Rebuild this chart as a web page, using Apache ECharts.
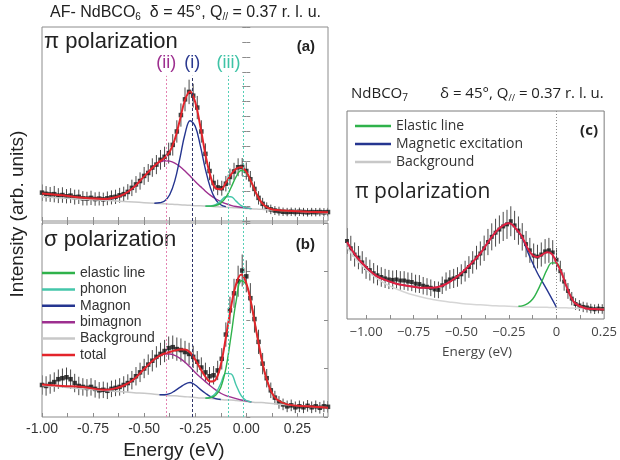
<!DOCTYPE html>
<html>
<head>
<meta charset="utf-8">
<script src="https://cdn.jsdelivr.net/npm/echarts@6/dist/echarts.min.js"></script>
<style>
  html, body { margin: 0; padding: 0; background: #fff; }
  #main { width: 620px; height: 460px; }
</style>
</head>
<body>
<div id="main"></div>
<script>
// ---------- AF-NdBCO6, fitted curves (energy in eV) ----------
const afFitEnergy = [-1.0,-0.9,-0.8,-0.7,-0.65,-0.6,-0.55,-0.5,-0.45,-0.425,-0.4,-0.375,-0.35,-0.325,-0.3,-0.275,-0.25,-0.225,-0.2,-0.175,-0.15,-0.125,-0.1,-0.075,-0.05,-0.025,0,0.025,0.05,0.075,0.1,0.125,0.15,0.2,0.3,0.4];

// (a) pi polarization
const piBackground = [1.62,1.54,1.46,1.39,1.35,1.31,1.27,1.23,1.19,1.17,1.15,1.13,1.11,1.09,1.07,1.05,1.03,1.02,1.0,0.98,0.96,0.94,0.92,0.90,0.88,0.86,0.84,0.82,0.80,0.78,0.76,0.74,0.72,0.68,0.61,0.53];
const piBimagnon = [null,null,null,1.44,1.53,1.78,2.27,2.99,3.69,3.93,4.04,4.01,3.88,3.65,3.35,3.01,2.65,2.32,2.0,1.72,1.49,1.30,1.16,1.05,0.97,0.92,0.87,0.83,null,null,null,null,null,null,null,null];
const piMagnon = [null,null,null,null,null,null,null,null,1.19,1.22,1.34,1.76,2.69,4.20,5.83,6.72,6.35,5.05,3.46,2.20,1.44,1.09,0.96,null,null,null,null,null,null,null,null,null,null,null,null,null];
const piPhonon = [null,null,null,null,null,null,null,null,null,null,null,null,null,null,null,null,null,null,1.0,1.01,1.10,1.35,1.62,1.62,1.33,1.03,0.88,0.83,null,null,null,null,null,null,null,null];
const piElastic = [null,null,null,null,null,null,null,null,null,null,null,null,null,null,null,null,null,null,1.0,1.0,1.04,1.20,1.58,2.23,2.96,3.38,3.23,2.58,1.81,1.23,0.92,0.78,0.73,0.68,null,null];
const piTotal = [1.85,1.72,1.55,1.48,1.56,1.78,2.27,2.99,3.69,3.98,4.23,4.64,5.46,6.76,8.11,8.68,7.97,6.35,4.46,2.99,2.19,2.12,2.56,3.10,3.50,3.61,3.30,2.60,1.81,1.23,0.92,0.78,0.73,0.68,0.62,0.58];

// (b) sigma polarization
const sigmaBackground = [0.65,0.62,0.58,0.55,0.53,0.52,0.50,0.49,0.47,0.46,0.45,0.44,0.44,0.43,0.42,0.41,0.40,0.39,0.39,0.38,0.37,0.36,0.35,0.35,0.34,0.33,0.32,0.31,0.30,0.30,0.29,0.28,0.27,0.25,0.22,0.19];
const sigmaBimagnon = [null,null,null,0.56,0.58,0.65,0.78,0.99,1.19,1.26,1.30,1.30,1.27,1.21,1.13,1.03,0.92,0.82,0.73,0.64,0.56,0.49,0.44,0.41,0.38,0.35,0.33,0.31,null,null,null,null,null,null,null,null];
const sigmaMagnon = [null,null,null,null,null,null,null,null,null,0.46,0.46,0.48,0.54,0.61,0.68,0.71,0.66,0.57,0.49,0.42,0.38,0.36,null,null,null,null,null,null,null,null,null,null,null,null,null,null];
const sigmaPhonon = [null,null,null,null,null,null,null,null,null,null,null,null,null,null,null,null,null,null,0.39,0.41,0.49,0.69,0.90,0.89,0.66,0.44,0.34,0.31,null,null,null,null,null,null,null,null];
const sigmaElastic = [null,null,null,null,null,null,null,null,null,null,null,null,null,null,null,null,null,null,0.39,0.40,0.45,0.61,1.0,1.66,2.38,2.81,2.73,2.32,1.75,1.19,0.77,0.50,0.36,0.26,null,null];
const sigmaTotal = [0.67,0.64,0.62,0.56,0.58,0.65,0.78,0.99,1.19,1.26,1.31,1.34,1.37,1.39,1.39,1.33,1.18,1.00,0.83,0.73,0.77,1.07,1.64,2.26,2.74,2.94,2.76,2.32,1.75,1.20,0.77,0.50,0.36,0.26,0.22,0.19];

// ---------- AF-NdBCO6, measured spectra ----------
const afDataEnergy = [-1.00,-0.98,-0.96,-0.94,-0.92,-0.90,-0.88,-0.86,-0.84,-0.82,-0.80,-0.78,-0.76,-0.74,-0.72,-0.70,-0.68,-0.66,-0.64,-0.62,-0.60,-0.58,-0.56,-0.54,-0.52,-0.50,-0.48,-0.46,-0.44,-0.42,-0.40,-0.38,-0.36,-0.34,-0.32,-0.30,-0.28,-0.26,-0.24,-0.22,-0.20,-0.18,-0.16,-0.14,-0.12,-0.10,-0.08,-0.06,-0.04,-0.02,0.00,0.02,0.04,0.06,0.08,0.10,0.12,0.14,0.16,0.18,0.20,0.22,0.24,0.26,0.28,0.30,0.32,0.34,0.36,0.38,0.40];
const piCounts = [1.90,1.82,1.78,1.80,1.70,1.74,1.66,1.70,1.60,1.62,1.52,1.50,1.55,1.47,1.50,1.45,1.52,1.58,1.62,1.72,1.80,1.95,2.22,2.45,2.68,3.02,3.22,3.58,3.78,4.10,4.30,4.55,5.10,6.00,7.10,8.15,8.65,8.40,7.60,6.00,4.50,3.35,2.55,2.25,2.20,2.50,2.95,3.32,3.60,3.62,3.35,2.80,2.15,1.55,1.15,0.90,0.78,0.70,0.66,0.62,0.60,0.62,0.60,0.62,0.60,0.58,0.60,0.59,0.60,0.58,0.60];
const piErrors = [0.55,0.52,0.50,0.55,0.50,0.52,0.48,0.50,0.50,0.48,0.48,0.46,0.48,0.45,0.46,0.45,0.46,0.47,0.48,0.50,0.50,0.52,0.55,0.56,0.58,0.60,0.60,0.62,0.64,0.66,0.68,0.70,0.72,0.75,0.78,0.80,0.82,0.80,0.78,0.75,0.70,0.62,0.56,0.52,0.50,0.52,0.56,0.58,0.60,0.60,0.58,0.55,0.50,0.45,0.40,0.35,0.32,0.30,0.30,0.28,0.28,0.28,0.28,0.28,0.28,0.28,0.28,0.28,0.28,0.28,0.28];
const sigmaCounts = [0.66,0.64,0.68,0.72,0.78,0.80,0.82,0.78,0.70,0.64,0.62,0.60,0.62,0.58,0.55,0.56,0.54,0.58,0.60,0.62,0.66,0.70,0.76,0.84,0.92,1.00,1.08,1.16,1.24,1.30,1.36,1.42,1.44,1.40,1.38,1.34,1.30,1.24,1.14,1.02,0.92,0.84,0.86,0.96,1.20,1.70,2.20,2.55,2.80,3.02,2.90,2.45,2.02,1.55,1.10,0.80,0.55,0.40,0.30,0.26,0.22,0.24,0.20,0.22,0.20,0.23,0.20,0.22,0.19,0.22,0.21];
const sigmaErrors = [0.20,0.20,0.20,0.20,0.20,0.20,0.20,0.20,0.19,0.19,0.18,0.18,0.18,0.18,0.17,0.17,0.17,0.17,0.17,0.18,0.18,0.18,0.19,0.19,0.20,0.20,0.21,0.22,0.22,0.23,0.23,0.24,0.24,0.24,0.24,0.23,0.23,0.23,0.22,0.21,0.20,0.19,0.19,0.20,0.22,0.25,0.28,0.30,0.32,0.33,0.33,0.31,0.28,0.25,0.22,0.19,0.16,0.14,0.13,0.12,0.12,0.12,0.12,0.12,0.12,0.12,0.12,0.12,0.12,0.12,0.12];

// ---------- NdBCO7 (c), pi polarization ----------
const opFitEnergy = [-1.1,-1.05,-1.0,-0.95,-0.9,-0.85,-0.8,-0.75,-0.7,-0.65,-0.6,-0.55,-0.5,-0.45,-0.4,-0.35,-0.3,-0.25,-0.2,-0.175,-0.15,-0.125,-0.1,-0.075,-0.05,-0.025,0,0.025,0.05,0.075,0.1,0.15,0.2,0.25];
const opBackground = [3.45,2.85,2.38,2.0,1.70,1.48,1.30,1.15,1.03,0.94,0.86,0.80,0.75,0.71,0.68,0.65,0.63,0.61,0.59,0.58,0.58,0.57,0.57,0.56,0.56,0.55,0.55,0.54,0.54,0.53,0.52,0.50,0.48,0.46];
const opMagnetic = [3.7,3.0,2.5,2.1,1.88,1.72,1.62,1.55,1.5,1.5,1.6,1.85,2.2,2.65,3.15,3.82,4.36,4.6,4.18,3.79,3.2,2.68,2.2,1.8,1.4,0.98,0.56,null,null,null,null,null,null,null];
const opElastic = [null,null,null,null,null,null,null,null,null,null,null,null,null,null,null,null,null,null,0.61,0.64,0.75,0.96,1.35,1.85,2.37,2.70,2.69,2.25,1.62,1.07,0.74,0.52,0.48,0.46];
const opTotal = [3.7,3.0,2.5,2.1,1.88,1.72,1.62,1.55,1.5,1.5,1.6,1.85,2.2,2.65,3.15,3.82,4.36,4.6,4.2,3.85,3.37,3.07,2.98,3.09,3.21,3.13,2.70,2.25,1.62,1.07,0.74,0.52,0.48,0.46];
const opDataEnergy = [-1.10,-1.08,-1.06,-1.04,-1.02,-1.00,-0.98,-0.96,-0.94,-0.92,-0.90,-0.88,-0.86,-0.84,-0.82,-0.80,-0.78,-0.76,-0.74,-0.72,-0.70,-0.68,-0.66,-0.64,-0.62,-0.60,-0.58,-0.56,-0.54,-0.52,-0.50,-0.48,-0.46,-0.44,-0.42,-0.40,-0.38,-0.36,-0.34,-0.32,-0.30,-0.28,-0.26,-0.24,-0.22,-0.20,-0.18,-0.16,-0.14,-0.12,-0.10,-0.08,-0.06,-0.04,-0.02,0.00,0.02,0.04,0.06,0.08,0.10,0.12,0.14,0.16,0.18,0.20,0.22,0.24];
const opCounts = [3.75,3.40,3.10,2.95,2.72,2.45,2.35,2.20,2.10,2.02,1.95,1.90,1.88,1.90,1.85,1.85,1.80,1.78,1.70,1.68,1.60,1.55,1.50,1.42,1.40,1.62,1.80,1.90,1.95,2.02,2.15,2.30,2.50,2.72,2.95,3.15,3.40,3.70,3.95,4.15,4.30,4.45,4.55,4.70,4.50,4.25,3.95,3.60,3.30,3.05,3.00,3.10,3.25,3.30,3.20,2.85,2.30,1.80,1.35,0.98,0.72,0.65,0.58,0.55,0.50,0.47,0.50,0.48];
const opErrors = [0.62,0.60,0.58,0.56,0.54,0.52,0.50,0.49,0.48,0.47,0.46,0.46,0.45,0.45,0.45,0.45,0.44,0.44,0.43,0.43,0.42,0.41,0.40,0.40,0.40,0.42,0.44,0.45,0.46,0.47,0.48,0.50,0.52,0.54,0.57,0.58,0.61,0.63,0.65,0.67,0.68,0.70,0.70,0.72,0.70,0.68,0.66,0.63,0.60,0.58,0.57,0.58,0.59,0.60,0.59,0.56,0.50,0.44,0.38,0.32,0.28,0.26,0.25,0.24,0.23,0.23,0.23,0.23];

// ---------- axis ticks, labels and annotations ----------
const abTickValues = [-1,-0.875,-0.75,-0.625,-0.5,-0.375,-0.25,-0.125,0,0.125,0.25,0.375];
const abLabelValues = [-1,-0.75,-0.5,-0.25,0,0.25];
const cTickValues = [-1,-0.875,-0.75,-0.625,-0.5,-0.375,-0.25,-0.125,0,0.125];
const cLabelValues = [-1,-0.75,-0.5,-0.25,0,0.25];
const guideEnergies = [-0.392, -0.264, -0.087, -0.016];
const guideLabels = ['(ii)', '(i)', '(iii)', ''];
const bLegendNames = ['elastic line','phonon','Magnon','bimagnon','Background','total'];
const cLegendNames = ['Elastic line','Magnetic excitation','Background'];

// ---------- styles ----------
const FONT_AB = "'Liberation Sans', Arial, sans-serif";
const FONT_C = "'Open Sans', 'Noto Sans', sans-serif";
const FRAME = '#8c8c8c';
const C = {
  red: '#e3242b', green: '#2fb24b', teal: '#44c6aa', navy: '#253590',
  purple: '#9d2f8f', gray: '#c8c8c8', lightGray: '#d6d6d6', point: '#111', bar: '#4a4a4a'
};
const guideColors = ['#e483b2', '#2f3468', '#56cfb6', '#56cfb6'];
const guideDash = [[2, 2], [3, 2], [2, 2], [2, 2]];

const pairs = (xs, ys) => xs.map((x, i) => [x, ys[i]]);

function curve(name, xs, ys, color, width, xi, yi, extra) {
  return Object.assign({
    name, type: 'line', xAxisIndex: xi, yAxisIndex: yi,
    data: pairs(xs, ys), showSymbol: false, symbol: 'none', smooth: 0.4,
    connectNulls: false, silent: true,
    lineStyle: { color, width }, itemStyle: { color }
  }, extra || {});
}

function points(name, xs, ys, size, xi, yi) {
  return {
    name, type: 'scatter', xAxisIndex: xi, yAxisIndex: yi, silent: true,
    data: pairs(xs, ys), symbol: 'rect', symbolSize: size,
    itemStyle: { color: C.point }
  };
}

function errorBars(name, xs, ys, errs, xi, yi) {
  return {
    name, type: 'custom', xAxisIndex: xi, yAxisIndex: yi, silent: true, clip: true,
    data: xs.map((x, i) => [x, ys[i] - errs[i], ys[i] + errs[i]]),
    encode: { x: 0, y: [1, 2] },
    renderItem(params, api) {
      const lo = api.coord([api.value(0), api.value(1)]);
      const hi = api.coord([api.value(0), api.value(2)]);
      return {
        type: 'line',
        shape: { x1: lo[0], y1: lo[1], x2: hi[0], y2: hi[1] },
        style: { stroke: C.bar, lineWidth: 1 }
      };
    }
  };
}

function guides(top, labelled) {
  return {
    silent: true, symbol: ['none', 'none'], animation: false,
    data: guideEnergies.map((e, i) => {
      const ls = { color: guideColors[i], type: guideDash[i], width: 1 };
      const lab = labelled && guideLabels[i]
        ? { show: true, position: 'end', formatter: guideLabels[i], color: ['#9d2f8f', '#2b3a8f', '#3ec3a6'][i],
            fontSize: 18, fontFamily: FONT_AB, distance: 4 }
        : { show: false };
      return [
        { coord: [e, 0], lineStyle: ls, label: lab },
        { coord: [e, top], lineStyle: ls, label: lab }
      ];
    })
  };
}

function xAxis(grid, min, max, ticks, position, labels) {
  return {
    type: 'value', gridIndex: grid, min, max, position,
    axisLine: { show: false }, splitLine: { show: false },
    axisTick: { show: true, inside: true, length: 4, lineStyle: { color: FRAME }, customValues: ticks },
    axisLabel: labels ? labels : { show: false }
  };
}

function yAxis(grid, max, position, ticks) {
  return {
    type: 'value', gridIndex: grid, min: 0, max, interval: 1, position,
    axisLine: { show: false }, splitLine: { show: false }, axisLabel: { show: false },
    axisTick: { show: ticks, inside: true, length: 4, lineStyle: { color: FRAME } }
  };
}

const chart = echarts.init(document.getElementById('main'), null, { renderer: 'canvas' });

const option = {
  animation: false,
  backgroundColor: '#fff',
  grid: [
    { left: 42, top: 27, width: 286, height: 194, show: true, borderColor: FRAME, borderWidth: 1 },
    { left: 42, top: 223, width: 286, height: 194, show: true, borderColor: FRAME, borderWidth: 1 },
    { left: 347, top: 111, width: 261, height: 208, show: true, borderColor: '#7c7c7c', borderWidth: 1 }
  ],
  xAxis: [
    xAxis(0, -1, 0.4, abTickValues, 'bottom'),
    xAxis(0, -1, 0.4, abTickValues, 'top'),
    xAxis(1, -1, 0.4, abTickValues, 'bottom', {
      show: true, customValues: abLabelValues, margin: 5, fontSize: 14, color: '#333', fontFamily: FONT_AB,
      formatter: v => v.toFixed(2)
    }),
    xAxis(2, -1.1, 0.25, cTickValues, 'bottom', {
      show: true, customValues: cLabelValues, margin: 7, fontSize: 13, color: '#444', fontFamily: FONT_C,
      formatter: v => v === 0 ? '0' : (v < 0 ? '\u2212' : '') + Math.abs(v).toFixed(2)
    })
  ],
  yAxis: [
    yAxis(0, 13, 'left', true),
    yAxis(0, 13, 'right', true),
    yAxis(1, 4, 'left', true),
    yAxis(1, 4, 'right', true),
    yAxis(2, 10, 'left', false)
  ],
  legend: [
    {
      data: bLegendNames, orient: 'vertical', left: 42, top: 265, padding: 0,
      icon: 'rect', itemWidth: 33, itemHeight: 2.5, itemGap: 0.4, selectedMode: false,
      textStyle: { fontSize: 14, fontFamily: FONT_AB, color: '#333', lineHeight: 16 }
    },
    {
      data: cLegendNames, orient: 'vertical', left: 355, top: 117, padding: 0,
      icon: 'rect', itemWidth: 36, itemHeight: 2.5, itemGap: 0, selectedMode: false,
      textStyle: { fontSize: 14, fontFamily: FONT_C, color: '#333', lineHeight: 18 }
    }
  ],
  series: [
    // (a) pi polarization
    curve('pi background', afFitEnergy, piBackground, C.gray, 1.5, 0, 0, { markLine: guides(9.73, true) }),
    curve('pi bimagnon', afFitEnergy, piBimagnon, C.purple, 1.4, 0, 0),
    curve('pi magnon', afFitEnergy, piMagnon, C.navy, 1.4, 0, 0),
    curve('pi phonon', afFitEnergy, piPhonon, C.teal, 1.4, 0, 0),
    curve('pi elastic', afFitEnergy, piElastic, C.green, 1.4, 0, 0),
    errorBars('pi errors', afDataEnergy, piCounts, piErrors, 0, 0),
    points('pi data', afDataEnergy, piCounts, 4.5, 0, 0),
    curve('pi total', afFitEnergy, piTotal, C.red, 2, 0, 0),

    // (b) sigma polarization
    curve('Background', afFitEnergy, sigmaBackground, C.gray, 1.5, 2, 2, { markLine: guides(4, false) }),
    curve('bimagnon', afFitEnergy, sigmaBimagnon, C.purple, 1.4, 2, 2),
    curve('Magnon', afFitEnergy, sigmaMagnon, C.navy, 1.4, 2, 2),
    curve('phonon', afFitEnergy, sigmaPhonon, C.teal, 1.4, 2, 2),
    curve('elastic line', afFitEnergy, sigmaElastic, C.green, 1.4, 2, 2),
    errorBars('sigma errors', afDataEnergy, sigmaCounts, sigmaErrors, 2, 2),
    points('sigma data', afDataEnergy, sigmaCounts, 4.5, 2, 2),
    curve('total', afFitEnergy, sigmaTotal, C.red, 2, 2, 2),

    // (c) NdBCO7
    curve('Background', opFitEnergy, opBackground, C.lightGray, 1.5, 3, 4, {
      markLine: {
        silent: true, symbol: ['none', 'none'], label: { show: false },
        lineStyle: { color: '#8a8a8a', type: [1, 2], width: 1 },
        data: [{ xAxis: 0 }]
      }
    }),
    curve('Magnetic excitation', opFitEnergy, opMagnetic, C.navy, 1.4, 3, 4),
    curve('Elastic line', opFitEnergy, opElastic, C.green, 1.4, 3, 4),
    errorBars('c errors', opDataEnergy, opCounts, opErrors, 3, 4),
    points('c data', opDataEnergy, opCounts, 4, 3, 4),
    curve('c total', opFitEnergy, opTotal, '#e1203f', 2, 3, 4)
  ],
  graphic: [
    {
      type: 'text', x: 50, y: 13, silent: true,
      style: {
        text: '{m|AF- NdBCO}{s|6}{m|  \u03b4 = 45\u00b0, Q}{s|//}{m| = 0.37 r. l. u.}',
        verticalAlign: 'middle', align: 'left',
        rich: {
          m: { fontSize: 16, fontFamily: FONT_AB, fill: '#222', lineHeight: 18 },
          s: { fontSize: 10, fontFamily: FONT_AB, fill: '#222', lineHeight: 9, verticalAlign: 'bottom' }
        }
      }
    },
    { type: 'text', x: 44, y: 42, silent: true,
      style: { text: '\u03c0 polarization', fontSize: 22, fontFamily: FONT_AB, fill: '#222', verticalAlign: 'middle' } },
    { type: 'text', x: 315, y: 47, silent: true,
      style: { text: '(a)', fontSize: 15, fontWeight: 'bold', fontFamily: FONT_AB, fill: '#222', align: 'right', verticalAlign: 'middle' } },
    { type: 'text', x: 44, y: 240, silent: true,
      style: { text: '\u03c3 polarization', fontSize: 22, fontFamily: FONT_AB, fill: '#222', verticalAlign: 'middle' } },
    { type: 'text', x: 315, y: 245, silent: true,
      style: { text: '(b)', fontSize: 15, fontWeight: 'bold', fontFamily: FONT_AB, fill: '#222', align: 'right', verticalAlign: 'middle' } },
    { type: 'text', x: 18, y: 214, rotation: Math.PI / 2, silent: true,
      style: { text: 'Intensity (arb. units)', fontSize: 19, fontFamily: FONT_AB, fill: '#222', align: 'center', verticalAlign: 'middle' } },
    { type: 'text', x: 174, y: 451, silent: true,
      style: { text: 'Energy (eV)', fontSize: 19, fontFamily: FONT_AB, fill: '#222', align: 'center', verticalAlign: 'middle' } },
    {
      type: 'text', x: 351, y: 94, silent: true,
      style: {
        text: '{m|NdBCO}{s|7}',
        verticalAlign: 'middle', align: 'left',
        rich: {
          m: { fontSize: 15, fontFamily: FONT_C, fill: '#222', lineHeight: 18 },
          s: { fontSize: 10, fontFamily: FONT_C, fill: '#222', lineHeight: 9, verticalAlign: 'bottom' }
        }
      }
    },
    {
      type: 'text', x: 440, y: 94, silent: true,
      style: {
        text: '{m|\u03b4 = 45\u00b0, Q}{s|//}{m| = 0.37 r. l. u.}',
        verticalAlign: 'middle', align: 'left',
        rich: {
          m: { fontSize: 15, fontFamily: FONT_C, fill: '#222', lineHeight: 18 },
          s: { fontSize: 9, fontFamily: FONT_C, fill: '#222', lineHeight: 9, verticalAlign: 'bottom' }
        }
      }
    },
    { type: 'text', x: 598, y: 131, silent: true,
      style: { text: '(c)', fontSize: 15, fontWeight: 'bold', fontFamily: FONT_C, fill: '#222', align: 'right', verticalAlign: 'middle' } },
    { type: 'text', x: 355, y: 192, silent: true,
      style: { text: '\u03c0 polarization', fontSize: 21, fontFamily: FONT_C, fill: '#222', verticalAlign: 'middle' } },
    { type: 'text', x: 477, y: 352, silent: true,
      style: { text: 'Energy (eV)', fontSize: 13.5, fontFamily: FONT_C, fill: '#444', align: 'center', verticalAlign: 'middle' } }
  ]
};

chart.setOption(option);
</script>
</body>
</html>
